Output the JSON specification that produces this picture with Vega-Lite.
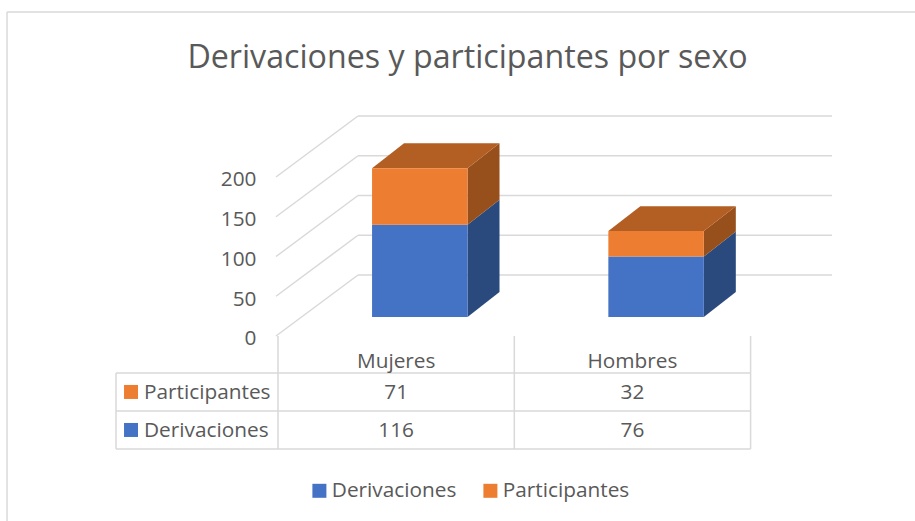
{
"$schema":"https://vega.github.io/schema/vega-lite/v6.json",
"width":915,"height":521,"padding":0,"autosize":{"type":"none"},
"background":"white",
"config":{"view":{"stroke":null},"font":"Open Sans"},
"title":{"text":"Derivaciones y participantes por sexo","fontSize":32.2,"fontWeight":"normal","color":"#595959","anchor":"middle","dx":10,"offset":-75,"font":"Open Sans"},
"datasets":{
"rows":[
{"category":"Mujeres","categoryIndex":0,"series":"Derivaciones","seriesIndex":0,"value":116},
{"category":"Mujeres","categoryIndex":0,"series":"Participantes","seriesIndex":1,"value":71},
{"category":"Hombres","categoryIndex":1,"series":"Derivaciones","seriesIndex":0,"value":76},
{"category":"Hombres","categoryIndex":1,"series":"Participantes","seriesIndex":1,"value":32}
],
"ticks":[{"tick":0},{"tick":50},{"tick":100},{"tick":150},{"tick":200}],
"tableRows":[{"boundary":0},{"boundary":1},{"boundary":2}],
"tableColumns":[{"boundary":-1},{"boundary":0},{"boundary":1},{"boundary":2}],
"categories":[{"category":"Mujeres","categoryIndex":0},{"category":"Hombres","categoryIndex":1}],
"seriesNames":[{"series":"Derivaciones","seriesIndex":0},{"series":"Participantes","seriesIndex":1}],
"frame":[{"part":"edge"}]
},
"data":{"name":"rows"},
"transform":[
{"stack":"value","groupby":["category"],"sort":[{"field":"seriesIndex","order":"ascending"}],"as":["v0","v1"]},
{"calculate":"datum.categoryIndex+0.398","as":"xl"},
{"calculate":"datum.categoryIndex+0.802","as":"xr"},
{"calculate":"[0,1]","as":"d"}
],
"layer":[
{"data":{"name":"frame"},"mark":{"type":"rule","color":"#d9d9d9","strokeWidth":1.5},
 "encoding":{"x":{"datum":-1.1468,"type":"quantitative","scale":{"domain":[-1.1765,2.6957],"nice":false,"zero":false},"axis":null},
 "y":{"datum":383.6,"type":"quantitative","scale":{"domain":[-256.6,398.7],"nice":false,"zero":false},
  "axis":{"values":[0,50,100,150,200],"title":null,"orient":"left","offset":-256,"domain":false,"ticks":false,"grid":false,"labelPadding":0,"labelFontSize":20.8,"labelColor":"#595959","labelOffset":22,"labelFont":"Open Sans"}},
 "y2":{"datum":-256.6}}},
{"data":{"name":"frame"},"mark":{"type":"rule","color":"#d9d9d9","strokeWidth":1.5},
 "encoding":{"x":{"datum":-1.1468,"type":"quantitative"},"x2":{"datum":2.6957},"y":{"datum":383.6,"type":"quantitative"}}},
{"data":{"name":"ticks"},
 "transform":[{"calculate":"datum.tick+52.8","as":"yb"},{"calculate":"datum.tick-23.9","as":"yf"}],
 "mark":{"type":"rule","color":"#d9d9d9","strokeWidth":1.5},
 "encoding":{"x":{"datum":-0.0085,"type":"quantitative"},"x2":{"datum":0.3385},"y":{"field":"yf","type":"quantitative"},"y2":{"field":"yb"}}},
{"data":{"name":"ticks"},
 "transform":[{"calculate":"datum.tick+52.8","as":"yb"}],
 "mark":{"type":"rule","color":"#d9d9d9","strokeWidth":1.5},
 "encoding":{"x":{"datum":0.3385,"type":"quantitative"},"x2":{"datum":2.3445},"y":{"field":"yb","type":"quantitative"}}},
{"data":{"name":"tableRows"},
 "transform":[{"calculate":"-70.4-47.8*datum.boundary","as":"yy"}],
 "mark":{"type":"rule","color":"#d9d9d9","strokeWidth":1.5},
 "encoding":{"x":{"datum":-0.6856,"type":"quantitative"},"x2":{"datum":2.0},"y":{"field":"yy","type":"quantitative"}}},
{"data":{"name":"tableColumns"},
 "transform":[{"calculate":"datum.boundary<0?-70.4:-23.9","as":"ya"},{"calculate":"datum.boundary<0?-0.6856:datum.boundary","as":"xx"}],
 "mark":{"type":"rule","color":"#d9d9d9","strokeWidth":1.5},
 "encoding":{"x":{"field":"xx","type":"quantitative"},"y":{"field":"ya","type":"quantitative"},"y2":{"datum":-166}}},
{"transform":[{"flatten":["d"]},{"filter":"datum.series==='Derivaciones'"},{"calculate":"datum.xr+datum.d*0.1354","as":"px"},{"calculate":"datum.v0+datum.d*31.4","as":"pa"},{"calculate":"datum.v1+datum.d*31.4","as":"pb"}],
 "mark":{"type":"area","orient":"vertical","color":"#2A4A7E","opacity":1},
 "encoding":{"x":{"field":"px","type":"quantitative"},"y":{"field":"pa","type":"quantitative","stack":null},"y2":{"field":"pb"},"detail":{"field":"category"}}},
{"transform":[{"flatten":["d"]},{"filter":"datum.series==='Participantes'"},{"calculate":"datum.xr+datum.d*0.1354","as":"px"},{"calculate":"datum.v0+datum.d*31.4","as":"pa"},{"calculate":"datum.v1+datum.d*31.4","as":"pb"}],
 "mark":{"type":"area","orient":"vertical","color":"#97501C","opacity":1},
 "encoding":{"x":{"field":"px","type":"quantitative"},"y":{"field":"pa","type":"quantitative","stack":null},"y2":{"field":"pb"},"detail":{"field":"category"}}},
{"transform":[{"flatten":["d"]},{"filter":"datum.series==='Participantes'"},{"calculate":"datum.xl+datum.d*0.1354","as":"pl"},{"calculate":"datum.xr+datum.d*0.1354","as":"pr"},{"calculate":"datum.v1+datum.d*31.4","as":"pb"}],
 "mark":{"type":"area","orient":"horizontal","color":"#B35E22","opacity":1},
 "encoding":{"y":{"field":"pb","type":"quantitative"},"x":{"field":"pl","type":"quantitative","stack":null},"x2":{"field":"pr"},"detail":{"field":"category"}}},
{"mark":{"type":"rect"},
 "encoding":{"x":{"field":"xl","type":"quantitative"},"x2":{"field":"xr"},"y":{"field":"v0","type":"quantitative"},"y2":{"field":"v1"},
 "color":{"field":"series","type":"nominal","scale":{"domain":["Derivaciones","Participantes"],"range":["#4472C4","#ED7D31"]},
  "legend":{"title":null,"orient":"none","direction":"horizontal","legendX":309,"legendY":480,"symbolType":"square","symbolSize":196,"symbolStrokeWidth":0,"labelFontSize":20.8,"labelColor":"#595959","labelFont":"Open Sans","labelOffset":2,"columnPadding":23,"symbolOpacity":1}}}},
{"data":{"name":"categories"},
 "transform":[{"calculate":"datum.categoryIndex+0.5","as":"cx"}],
 "mark":{"type":"text","fontSize":20.8,"color":"#595959","font":"Open Sans","align":"center","baseline":"middle"},
 "encoding":{"x":{"field":"cx","type":"quantitative"},"y":{"datum":-56.6,"type":"quantitative"},"text":{"field":"category"}}},
{"data":{"name":"rows"},
 "transform":[{"calculate":"datum.categoryIndex+0.5","as":"cx"},{"calculate":"-143.6+47.8*datum.seriesIndex","as":"cy"}],
 "mark":{"type":"text","fontSize":20.8,"color":"#595959","font":"Open Sans","align":"center","baseline":"middle"},
 "encoding":{"x":{"field":"cx","type":"quantitative"},"y":{"field":"cy","type":"quantitative"},"text":{"field":"value","type":"quantitative"}}},
{"data":{"name":"seriesNames"},
 "transform":[{"calculate":"-143.6+47.8*datum.seriesIndex","as":"cy"}],
 "mark":{"type":"text","fontSize":20.8,"color":"#595959","font":"Open Sans","align":"left","baseline":"middle"},
 "encoding":{"x":{"datum":-0.567,"type":"quantitative"},"y":{"field":"cy","type":"quantitative"},"text":{"field":"series"}}},
{"data":{"name":"seriesNames"},
 "transform":[{"calculate":"-142.1+47.8*datum.seriesIndex","as":"cy"}],
 "mark":{"type":"point","shape":"square","filled":true,"size":196,"opacity":1},
 "encoding":{"x":{"datum":-0.622,"type":"quantitative"},"y":{"field":"cy","type":"quantitative"},"color":{"field":"series","type":"nominal"}}}
]
}
